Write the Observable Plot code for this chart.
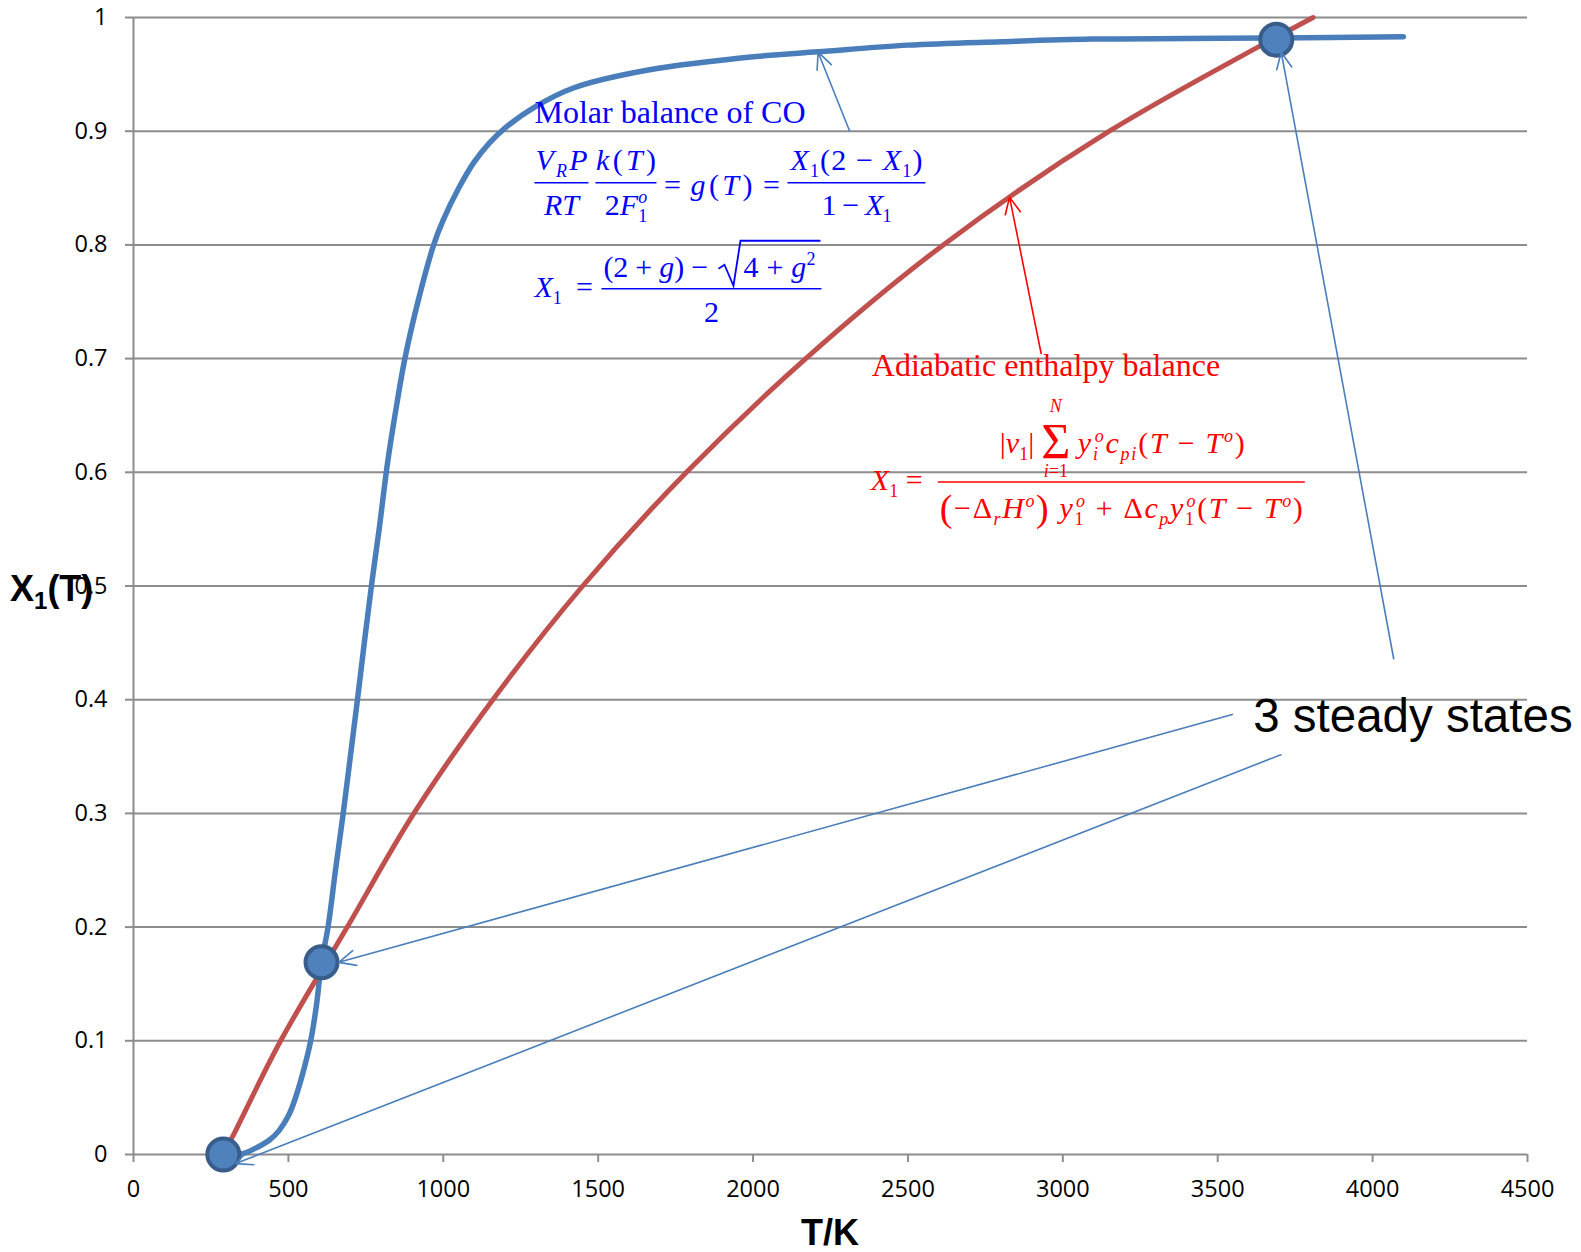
<!DOCTYPE html>
<html><head><meta charset="utf-8">
<script src="https://cdn.jsdelivr.net/npm/d3@7"></script>
<script src="https://cdn.jsdelivr.net/npm/@observablehq/plot@0.6"></script>
<style>html,body{margin:0;padding:0;background:#fff;} #chart svg{display:block;}</style>
</head><body><div id="chart"></div>
<script>
// ---- data ----
const xTicks = [0, 500, 1000, 1500, 2000, 2500, 3000, 3500, 4000, 4500];
const yTicks = [0, 0.1, 0.2, 0.3, 0.4, 0.5, 0.6, 0.7, 0.8, 0.9, 1];

// Molar balance of CO (blue)
const blueT = [290, 330, 356, 400, 440, 470, 500, 520, 550, 572, 590, 607, 628, 652, 677, 700, 723, 745, 768, 793, 821, 850, 876, 920, 969, 1000, 1050, 1100, 1150, 1200, 1300, 1420, 1666, 2024, 2210, 2500, 2800, 3093, 3400, 3689, 4099];
const blueX = [0, 0.0005, 0.001, 0.0064, 0.013, 0.021, 0.034, 0.0475, 0.075, 0.1, 0.13, 0.169, 0.2, 0.25, 0.3, 0.35, 0.4, 0.45, 0.5, 0.55, 0.61, 0.66, 0.7, 0.752, 0.8, 0.822, 0.85, 0.873, 0.89, 0.903, 0.922, 0.938, 0.954, 0.966, 0.9698, 0.9757, 0.9787, 0.981, 0.9815, 0.982, 0.983];

// Adiabatic enthalpy balance (red)
const redT = [290, 324, 475, 690, 905, 1160, 1450, 1785, 2170, 2614, 3150, 3808];
const redX = [0, 0.018, 0.1, 0.2, 0.3, 0.4, 0.5, 0.6, 0.7, 0.8, 0.9, 1.0];

// steady states
const stateT = [290, 607, 3689];
const stateX = [0, 0.169, 0.9805];

// annotation arrows
const arrowFromT = [2311, 2930, 4068, 3547, 3704];
const arrowFromX = [0.9006, 0.7045, 0.436, 0.387, 0.3516];
const arrowToT = [2210, 2828, 3705, 663, 330];
const arrowToX = [0.9695, 0.842, 0.9695, 0.169, -0.008];
const arrowKind = ["blue", "red", "blue", "blue", "blue"];

// annotation labels
const labelText = ["Molar balance of CO", "Adiabatic enthalpy balance", "3 steady states"];
const labelT = [1296, 2385, 3616];
const labelX = [0.907, 0.6843, 0.3714];

const xTitle = "T/K";

// ---- build ----
const blue = blueT.map((T, i) => ({T, X: blueX[i]}));
const red = redT.map((T, i) => ({T, X: redX[i]}));
const states = stateT.map((T, i) => ({T, X: stateX[i]}));
const arrows = arrowFromT.map((t, i) => ({t1: t, x1: arrowFromX[i], t2: arrowToT[i], x2: arrowToX[i], kind: arrowKind[i]}));

const GRID = "#8c8c8c";
const BLUE = "#4A7EBB";
const RED = "#C0504D";

const plot = Plot.plot({
  width: 1581, height: 1252,
  marginLeft: 133, marginRight: 54, marginTop: 17, marginBottom: 98,
  x: {domain: [0, 4500]},
  y: {domain: [0, 1]},
  style: {fontFamily: "'Open Sans', sans-serif", fontSize: "23px", background: "#fff", color: "#000", overflow: "visible"},
  marks: [
    Plot.ruleY(yTicks, {stroke: GRID, strokeWidth: 2}),
    Plot.ruleX([0], {stroke: GRID, strokeWidth: 2}),
    Plot.axisY({ticks: yTicks, tickSize: 8, tickPadding: 18, stroke: GRID, strokeWidth: 2, fill: "#000", fontSize: 23.5, tickFormat: d => String(+d.toFixed(1)), label: null}),
    Plot.axisX({ticks: xTicks, tickSize: 8, tickPadding: 18, stroke: GRID, strokeWidth: 2, fill: "#000", fontSize: 23.5, tickFormat: d => String(d), label: null}),
    Plot.line(blue, {x: "T", y: "X", stroke: BLUE, strokeWidth: 5.5, strokeLinecap: "round", curve: "catmull-rom"}),
    Plot.line(red, {x: "T", y: "X", stroke: RED, strokeWidth: 5, curve: "catmull-rom"}),
    Plot.dot(states, {x: "T", y: "X", r: 16, fill: "#4F81BD", stroke: "#385D8A", strokeWidth: 4}),
    Plot.arrow(arrows.filter(d => d.kind === "blue"), {x1: "t1", y1: "x1", x2: "t2", y2: "x2", stroke: BLUE, strokeWidth: 1.6, headLength: 17, headAngle: 50}),
    Plot.arrow(arrows.filter(d => d.kind === "red"), {x1: "t1", y1: "x1", x2: "t2", y2: "x2", stroke: "#FF0000", strokeWidth: 1.6, headLength: 17, headAngle: 50})
  ]
});
document.getElementById("chart").appendChild(plot);

// ---- annotations (text, formulas) ----
const sx = plot.scale("x"), sy = plot.scale("y");
const svg = d3.select(plot);
const g = svg.append("g").attr("text-anchor", "start");
const SERIF = "'Liberation Serif','Times New Roman',serif";
const SANS = "'Liberation Sans',Arial,sans-serif";

function mathText(x, y, parts, {anchor = "start", size = 30, fill = "#000", width = null} = {}) {
  const el = g.append("text").attr("x", x).attr("y", y).attr("text-anchor", anchor)
    .attr("font-family", SERIF).attr("font-size", size).attr("fill", fill).style("white-space", "pre");
  let cur = 0;
  for (const p of parts) {
    const [t, pos = "b", st = "i", dx = 0, fsz = null] = p;
    const small = pos === "sub" || pos === "sup";
    const off = pos === "sub" ? size * 0.25 : pos === "sup" ? -size * 0.38 : pos === "big" ? size * 0.1 : 0;
    const fs = fsz || (small ? size * 0.6 : size);
    const ts = el.append("tspan").attr("dy", (off - cur).toFixed(2)).attr("font-size", fs)
      .attr("font-style", st === "r" ? "normal" : "italic").text(t);
    if (dx) ts.attr("dx", dx);
    cur = off;
  }
  if (width) el.attr("textLength", width).attr("lengthAdjust", "spacing");
  return el;
}
function bar(x1, x2, y, color) {
  g.append("line").attr("x1", x1).attr("x2", x2).attr("y1", y).attr("y2", y).attr("stroke", color).attr("stroke-width", 1.6);
}

// Molar balance block
const TB = "#0000FF";
const ax = sx.apply(labelT[0]), ay = sy.apply(labelX[0]);
g.append("text").attr("x", ax).attr("y", ay).attr("text-anchor", "start").attr("font-family", SERIF).attr("font-size", 32).attr("fill", TB).text(labelText[0]);
mathText(ax + 27, ay + 47, [["V"], ["R", "sub"], ["P"]], {anchor: "middle", fill: TB, width: 52});
bar(ax, ax + 54, ay + 60, TB);
mathText(ax + 27, ay + 92, [["RT"]], {anchor: "middle", fill: TB});
mathText(ax + 91.5, ay + 47, [["k"], ["(", "b", "r"], ["T"], [")", "b", "r"]], {anchor: "middle", fill: TB, width: 60});
bar(ax + 61, ax + 122, ay + 60, TB);
mathText(ax + 91.5, ay + 92, [["2", "b", "r"], ["F"], ["1", "sub", "r"], ["o", "sup", "i", -9]], {anchor: "middle", fill: TB});
mathText(ax + 138, ay + 72, [["=", "b", "r"]], {anchor: "middle", fill: TB});
mathText(ax + 187, ay + 72, [["g"], ["(", "b", "r"], ["T"], [")", "b", "r"]], {anchor: "middle", fill: TB, width: 62});
mathText(ax + 237, ay + 72, [["=", "b", "r"]], {anchor: "middle", fill: TB});
mathText(ax + 322, ay + 47, [["X"], ["1", "sub", "r"], ["(2 − ", "b", "r"], ["X"], ["1", "sub", "r"], [")", "b", "r"]], {anchor: "middle", fill: TB, width: 132});
bar(ax + 253, ax + 391, ay + 60, TB);
mathText(ax + 322, ay + 92, [["1 − ", "b", "r"], ["X"], ["1", "sub", "r"]], {anchor: "middle", fill: TB, width: 70});

mathText(ax, ay + 174, [["X"], ["1", "sub", "r"]], {fill: TB});
mathText(ax + 50, ay + 174, [["=", "b", "r"]], {anchor: "middle", fill: TB});
mathText(ax + 69, ay + 154, [["(2 + ", "b", "r"], ["g"], [") − ", "b", "r"]], {fill: TB, width: 112});
g.append("path").attr("d", `M${ax + 184},${ay + 146} L${ax + 190},${ay + 142} L${ax + 199},${ay + 163} L${ax + 206},${ay + 118} L${ax + 286},${ay + 118}`)
  .attr("fill", "none").attr("stroke", TB).attr("stroke-width", 1.8);
mathText(ax + 209, ay + 154, [["4 + ", "b", "r"], ["g"], ["2", "sup", "r"]], {fill: TB, width: 72});
bar(ax + 67, ax + 287, ay + 166, TB);
mathText(ax + 177, ay + 199, [["2", "b", "r"]], {anchor: "middle", fill: TB});

// Adiabatic enthalpy balance block
const TR = "#FF0000";
const bx = sx.apply(labelT[1]), by = sy.apply(labelX[1]);
g.append("text").attr("x", bx).attr("y", by).attr("text-anchor", "start").attr("font-family", SERIF).attr("font-size", 32).attr("fill", TR).text(labelText[1]);
mathText(bx - 1, by + 114, [["X"], ["1", "sub", "r"], [" =", "b", "r"]], {fill: TR});
bar(bx + 66, bx + 433, by + 106, TR);
mathText(bx + 128, by + 77, [["|", "b", "r"], ["ν"], ["1", "sub", "r"], ["|", "b", "r"]], {fill: TR});
mathText(bx + 184, by + 82, [["Σ", "b", "r"]], {anchor: "middle", fill: TR, size: 50});
mathText(bx + 184, by + 36, [["N"]], {anchor: "middle", fill: TR, size: 18});
mathText(bx + 184, by + 101, [["i"], ["=1", "b", "r"]], {anchor: "middle", fill: TR, size: 18});
mathText(bx + 206, by + 77, [["y"], ["i", "sub"], ["o", "sup", "i", -5], ["c"], ["pi", "sub"], ["(", "b", "r"], ["T"], [" − ", "b", "r"], ["T"], ["o", "sup"], [")", "b", "r"]], {fill: TR, width: 167});
mathText(bx + 68, by + 142, [
  ["(", "big", "r", 0, 38], ["−Δ", "b", "r"], ["r", "sub"], ["H"], ["o", "sup"], [")", "big", "r", 0, 38],
  [" y"], ["1", "sub", "r"], ["o", "sup", "i", -9], [" + Δ", "b", "r"], ["c"], ["p", "sub"], ["y"], ["1", "sub", "r"], ["o", "sup", "i", -9],
  ["(", "b", "r"], ["T"], [" − ", "b", "r"], ["T"], ["o", "sup"], [")", "b", "r"]
], {fill: TR, width: 363});

// 3 steady states
g.append("text").attr("x", sx.apply(labelT[2])).attr("y", sy.apply(labelX[2])).attr("text-anchor", "start")
  .attr("font-family", SANS).attr("font-size", 47.5).attr("fill", "#000").text(labelText[2]);

// axis titles
const yt = g.append("text").attr("x", 10).attr("y", 601).attr("text-anchor", "start").attr("font-family", SANS).attr("font-weight", "bold").attr("font-size", 36).attr("fill", "#000");
yt.append("tspan").text("X");
yt.append("tspan").attr("font-size", 24).attr("dy", 8).text("1");
yt.append("tspan").attr("dy", -8).text("(T)");
g.append("text").attr("x", (sx.apply(0) + sx.apply(4500)) / 2).attr("y", 1245).attr("text-anchor", "middle")
  .attr("font-family", SANS).attr("font-weight", "bold").attr("font-size", 36).attr("fill", "#000").text(xTitle);
</script>
</body></html>
